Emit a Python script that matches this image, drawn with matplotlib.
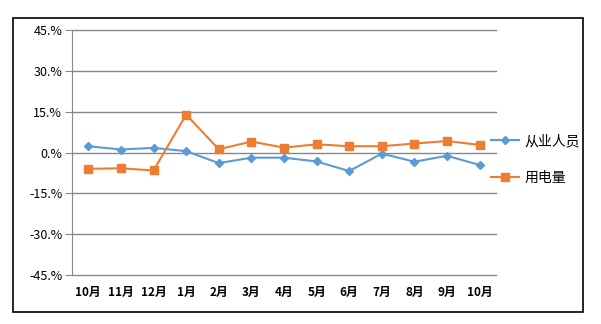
import matplotlib.pyplot as plt
from matplotlib.patches import Rectangle

plt.rcParams['font.family'] = ['Noto Sans CJK SC', 'DejaVu Sans']

months = ['10月', '11月', '12月', '1月', '2月', '3月', '4月',
          '5月', '6月', '7月', '8月', '9月', '10月']
workers = [2.3, 1.1, 1.7, 0.5, -3.9, -1.9, -1.9, -3.3, -6.8, -0.4, -3.4, -1.2, -4.6]
power = [-6.0, -5.8, -6.6, 13.9, 1.2, 4.0, 1.8, 3.0, 2.3, 2.3, 3.3, 4.2, 2.8]
yticks = [-45, -30, -15, 0, 15, 30, 45]
ytick_labels = ['-45.%', '-30.%', '-15.%', '0.%', '15.%', '30.%', '45.%']

fig = plt.figure(figsize=(6.01, 3.24), dpi=100)
fig.patches.append(Rectangle((13 / 601, 1 - 312 / 324), 570 / 601, 294 / 324,
                             transform=fig.transFigure, fill=False,
                             edgecolor='black', linewidth=1.2))

ax = fig.add_axes([72 / 601, 1 - 275 / 324, 424 / 601, 245 / 324])
x = list(range(len(months)))
l1, = ax.plot(x, workers, color='#5B9BD5', lw=1.5, marker='D', ms=4.5,
              label='从业人员', zorder=3)
l2, = ax.plot(x, power, color='#ED7D31', lw=1.5, marker='s', ms=6,
              label='用电量', zorder=3)

ax.set_xlim(-0.5, len(months) - 0.5)
ax.set_ylim(-45, 45)
ax.set_yticks(yticks)
ax.set_yticklabels(ytick_labels, fontsize=9)
ax.set_xticks(x)
ax.set_xticklabels(months, fontsize=8.5, fontweight='bold')
ax.grid(axis='y', color='#888888', lw=1)
for g in ax.yaxis.get_gridlines():
    g.set_clip_on(False)
for s in ['top', 'right', 'bottom']:
    ax.spines[s].set_visible(False)
ax.spines['left'].set_color('#888888')
ax.tick_params(axis='y', length=5, color='#888888', pad=2)
ax.tick_params(axis='x', length=0, pad=8)

for h, ypix in [(l1, 141), (l2, 178)]:
    fig.legend(handles=[h], loc='center left', bbox_to_anchor=(491 / 601, 1 - ypix / 324),
               frameon=False, fontsize=10, handlelength=2.0, handletextpad=0.4,
               borderpad=0, borderaxespad=0)

fig.savefig('out.png', dpi=100)
